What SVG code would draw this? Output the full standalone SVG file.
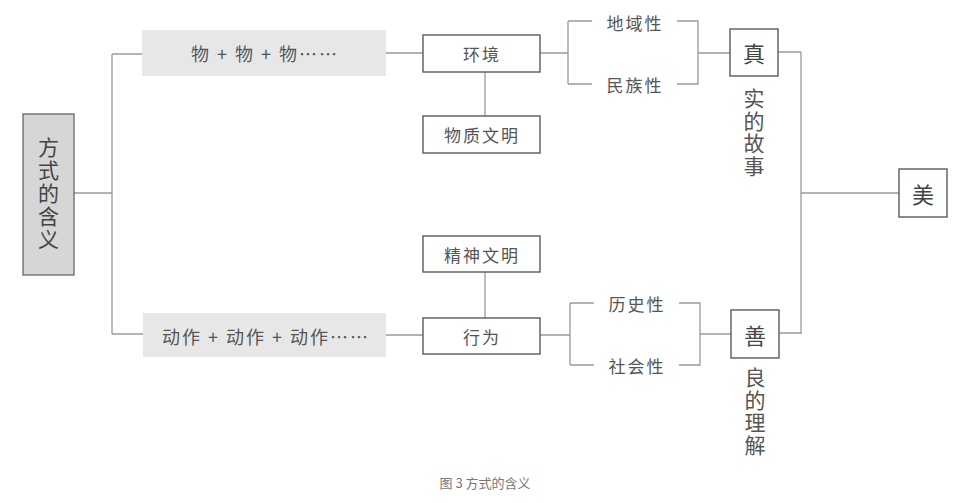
<svg xmlns="http://www.w3.org/2000/svg" width="963" height="503" viewBox="0 0 963 503">
<style>
.ln{stroke:#9a9a9a;stroke-width:1.3;fill:none}
.bx{fill:#fff;stroke:#5a5a5a;stroke-width:1.4}
.band{fill:#e7e7e7}
.t{font-family:"Noto Sans CJK SC","Noto Sans",sans-serif;fill:#555;text-anchor:middle;dominant-baseline:central}
.s{font-size:17px;letter-spacing:2px}
.w{font-size:18px;letter-spacing:2px}
.big{font-size:22px;fill:#444}
.vt{font-family:"Noto Sans CJK SC","Noto Sans",sans-serif;font-size:21px;fill:#555;writing-mode:vertical-rl;text-orientation:upright;text-anchor:start;letter-spacing:1.5px}
.cap{font-size:13px;fill:#777}
</style>
<rect width="963" height="503" fill="#fff"/>
<g id="connectors">
<path class="ln" d="M74 193H112M112 54V334M112 54H142M112 334H143"/>
<path class="ln" d="M386 53H423M540 53H568M485 72V116"/>
<path class="ln" d="M568 21V84M568 21H592M568 84H592M677 21H698V84H677M698 53H730M778 52H801"/>
<path class="ln" d="M386 335H423M540 335H570M485 272V318"/>
<path class="ln" d="M570 303V365M570 303H594M570 365H594M679 303H700V365H679M700 334H731M779 333H801"/>
<path class="ln" d="M801 52V334M801 193H899"/>
</g>
<g id="n-fangshi">
<rect x="23" y="114" width="51" height="161" fill="#d6d6d6" stroke="#707070" stroke-width="1.4"/>
<text class="vt" style="fill:#444;letter-spacing:2px" x="48.5" y="137">方式的含义</text>
</g>
<g id="n-wu">
<rect class="band" x="142" y="30" width="244" height="46"/>
<text class="t w" x="265" y="53">物 + 物 + 物……</text>
</g>
<g id="n-huanjing">
<rect class="bx" x="423" y="35" width="117" height="37"/>
<text class="t s" x="482" y="53">环境</text>
</g>
<g id="n-wuzhi">
<rect class="bx" x="423" y="116" width="117" height="37"/>
<text class="t s" x="482" y="134">物质文明</text>
</g>
<g id="n-diyu"><text class="t s" x="635" y="22">地域性</text></g>
<g id="n-minzu"><text class="t s" x="635" y="84">民族性</text></g>
<g id="n-zhen">
<rect class="bx" x="730" y="29" width="48" height="47"/>
<text class="t big" x="754" y="52">真</text>
<text class="vt" x="754" y="88">实的故事</text>
</g>
<g id="n-jingshen">
<rect class="bx" x="423" y="236" width="117" height="36"/>
<text class="t s" x="482" y="254">精神文明</text>
</g>
<g id="n-dongzuo">
<rect class="band" x="143" y="313" width="243" height="44"/>
<text class="t w" x="266" y="336">动作 + 动作 + 动作……</text>
</g>
<g id="n-xingwei">
<rect class="bx" x="423" y="318" width="117" height="36"/>
<text class="t s" x="482" y="336">行为</text>
</g>
<g id="n-lishi"><text class="t s" x="637" y="303">历史性</text></g>
<g id="n-shehui"><text class="t s" x="637" y="365">社会性</text></g>
<g id="n-shan">
<rect class="bx" x="731" y="310" width="48" height="48"/>
<text class="t big" x="755" y="334">善</text>
<text class="vt" x="755" y="367">良的理解</text>
</g>
<g id="n-mei">
<rect class="bx" x="899" y="169" width="48" height="48"/>
<text class="t big" x="923" y="193">美</text>
</g>
<text class="t cap" x="485" y="482">图 3  方式的含义</text>
</svg>
